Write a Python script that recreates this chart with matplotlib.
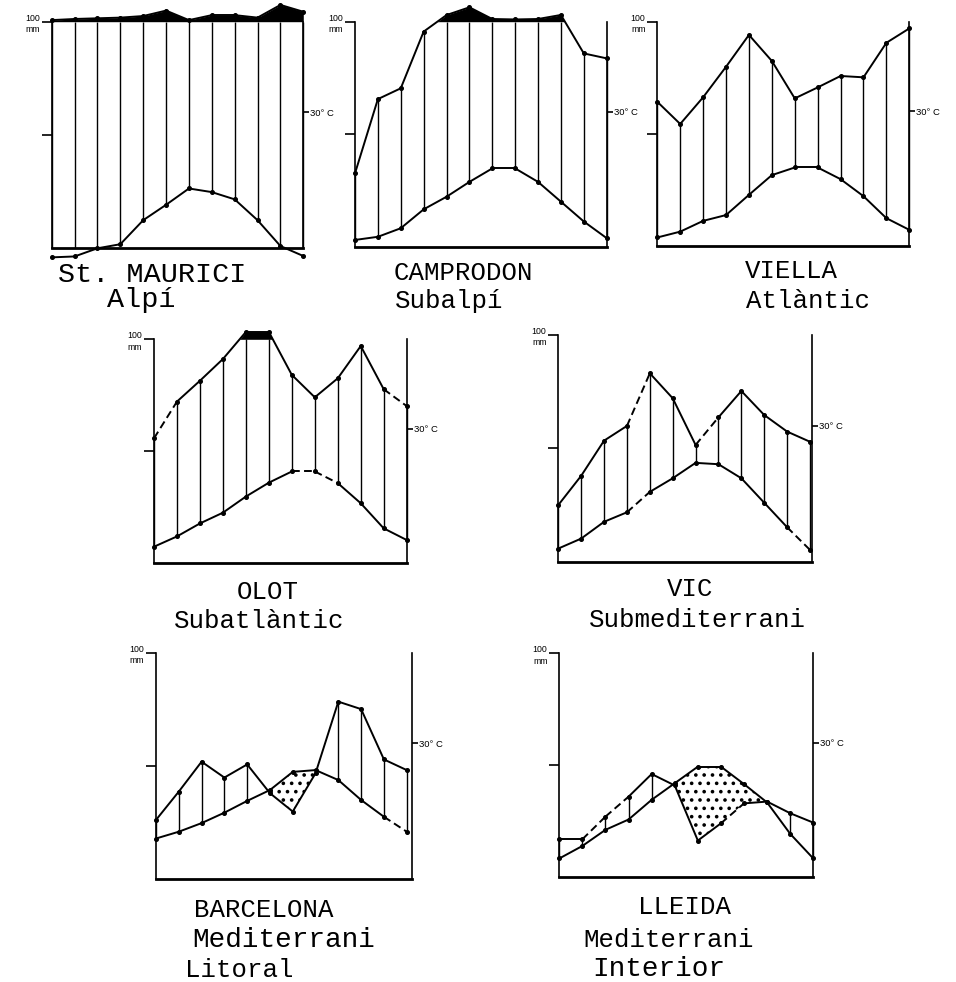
import numpy as np
import matplotlib
matplotlib.use("Agg")
import matplotlib.pyplot as plt

W, H = 956, 982

# ---------------- data (monthly, Jan..Dec) ----------------
months = np.arange(12)

stations = ["St. MAURICI", "CAMPRODON", "VIELLA", "OLOT", "VIC", "BARCELONA", "LLEIDA"]
climates = ["Alpí", "Subalpí", "Atlàntic", "Subatlàntic", "Submediterrani",
            "Mediterrani\nLitoral", "Mediterrani\nInterior"]

# precipitation (mm)
p_maurici = [107, 112, 115, 118, 125, 149, 107, 129, 129, 118, 174, 144]
p_camprodon = [32.6, 65.6, 70.4, 95.6, 129.6, 164, 112, 110, 112, 130, 85.9, 83.7]
p_viella = [64.3, 54.4, 66.3, 79.9, 94.1, 82.5, 65.8, 70.7, 75.8, 75.2, 90.6, 97.0]
p_olot = [55.8, 72.2, 81.5, 91.2, 133, 133, 84.1, 74.1, 82.6, 97.0, 77.7, 70.2]
p_vic = [25.0, 37.9, 53.4, 59.9, 83.1, 72.1, 51.5, 63.7, 75.3, 64.7, 57.4, 52.9]
p_bcn = [26.2, 38.7, 51.9, 44.9, 50.7, 38.0, 29.9, 46.8, 78.4, 75.1, 52.9, 48.2]
p_lleida = [17.0, 17.0, 27.1, 36.0, 46.1, 41.0, 16.4, 24.1, 33.0, 33.8, 28.6, 24.4]

# mean temperature (°C)
t_maurici = [-2.0, -1.8, 0.0, 0.9, 6.2, 9.6, 13.2, 12.4, 10.8, 6.2, 0.5, -1.7]
t_camprodon = [1.5, 2.2, 4.1, 8.3, 11.1, 14.4, 17.4, 17.4, 14.4, 10.0, 5.6, 1.9]
t_viella = [1.9, 3.2, 5.6, 6.9, 11.4, 15.8, 17.5, 17.5, 14.9, 11.1, 6.2, 3.6]
t_olot = [3.7, 6.0, 8.9, 11.3, 14.9, 18.0, 20.5, 20.5, 17.9, 13.4, 7.8, 5.2]
t_vic = [2.9, 5.1, 8.8, 10.9, 15.4, 18.4, 21.8, 21.5, 18.4, 13.0, 7.6, 2.6]
t_bcn = [9.0, 10.5, 12.4, 14.7, 17.3, 19.7, 23.7, 24.1, 21.9, 17.5, 13.8, 10.5]
t_lleida = [4.2, 7.0, 10.6, 12.9, 17.3, 21.0, 24.7, 24.7, 20.8, 16.7, 9.7, 4.2]

precip = [p_maurici, p_camprodon, p_viella, p_olot, p_vic, p_bcn, p_lleida]
temps = [t_maurici, t_camprodon, t_viella, t_olot, t_vic, t_bcn, t_lleida]

# ---------------- style: segments drawn broken (start month index) ----------------
dash_p = [[], [], [], [0, 10], [3, 6], [], [1, 2, 7]]
dash_t = [[], [], [], [6, 7], [3, 10], [10], []]

# ---------------- layout (pixels) ----------------
# left axis x, right axis x, x of last month, y of 0 mm, y of 100 mm
frames = [
    (51.7, 303.3, 303.3, 248.3, 21.7),
    (355.0, 606.7, 606.7, 246.7, 21.7),
    (657.3, 909.3, 909.3, 246.0, 21.7),
    (154.0, 406.7, 406.7, 563.3, 339.3),
    (558.3, 811.7, 810.0, 561.7, 335.0),
    (156.0, 411.7, 406.7, 879.3, 652.7),
    (559.3, 813.3, 813.3, 877.3, 653.3),
]
# (x centre, baseline y, size) for station name and climate lines
name_pos = [(152.5, 282, 20.5), (463.3, 280, 18.5), (791.7, 278.3, 18.5),
            (267.5, 599.3, 18.5), (690, 596, 18.5), (263.3, 916.7, 18.5),
            (684.2, 914, 18.5)]
clim_pos = [[(141.7, 307, 20.5)], [(449.2, 308.3, 18.5)], [(807.5, 308.3, 18.5)],
            [(259.2, 628.3, 18.5)], [(697.5, 627.3, 18.5)],
            [(283.3, 947.3, 20), (239.2, 977.3, 18.5)],
            [(668.3, 946.7, 18.5), (658.3, 975.5, 20)]]

MONO = ["Liberation Mono", "DejaVu Sans Mono"]
SANS = ["Liberation Sans", "DejaVu Sans"]
plt.rcParams["font.family"] = SANS
plt.rcParams["hatch.linewidth"] = 1.4

fig = plt.figure(figsize=(W / 100, H / 100), dpi=100)
fig.patch.set_facecolor("white")

YMIN, YMAX = -14.0, 116.0


def scaled(p):
    p = np.asarray(p, float)
    return np.where(p > 100, 100 + (p - 100) / 10.0, p)


def draw_series(ax, x, y, dashed):
    for k in range(len(x) - 1):
        ls = (0, (4, 2.2)) if k in dashed else "-"
        ax.plot(x[k:k + 2], y[k:k + 2], color="k", lw=1.4, ls=ls,
                solid_capstyle="round", clip_on=False)
    ax.plot(x, y, ls="none", marker="o", ms=2.6, color="k", clip_on=False)


for i in range(7):
    L, R, Rd, B, T100 = frames[i]
    xr = 11 * (R - L) / (Rd - L)
    dy = (B - T100) / 100.0
    bot_px = B - YMIN * dy
    top_px = T100 - (YMAX - 100) * dy
    ax = fig.add_axes([L / W, 1 - bot_px / H, (R - L) / W, (bot_px - top_px) / H])
    ax.set_xlim(0, xr)
    ax.set_ylim(YMIN, YMAX)
    ax.patch.set_alpha(0)

    x = months.astype(float)
    Ps = scaled(precip[i])
    Tm = 2 * np.asarray(temps[i], float)

    # humid period hatching (one line per month)
    top = np.minimum(Ps, 100)
    bot = np.maximum(Tm, 0)
    m = top > bot
    ax.vlines(x[m], bot[m], top[m], color="k", lw=1.0, clip_on=False)
    # super-humid (>100 mm) in black
    ax.fill_between(x, 100, Ps, where=Ps > 100, interpolate=True,
                    color="k", lw=0, clip_on=False)
    # dry period dotted
    if np.any(Tm > Ps):
        ax.fill_between(x, Ps, Tm, where=Tm > Ps, interpolate=True,
                        facecolor="none", edgecolor="k", hatch="..", lw=0)
    draw_series(ax, x, Ps, dash_p[i])
    draw_series(ax, x, Tm, dash_t[i])

    # frame
    ax.spines["top"].set_visible(False)
    ax.spines["bottom"].set_position(("data", 0))
    ax.spines["bottom"].set_bounds(0, xr)
    ax.spines["bottom"].set_linewidth(2.0)
    ax.spines["left"].set_bounds(0, 100)
    ax.spines["right"].set_bounds(0, 100)
    ax.spines["left"].set_linewidth(1.2)
    ax.spines["right"].set_linewidth(1.2)
    ax.set_xticks([])
    ax.set_yticks([50, 100])
    ax.set_yticklabels(["", "100\nmm"], linespacing=1.35)
    ax.tick_params(axis="y", direction="out", length=7, width=1.2,
                   labelsize=6.3, pad=1.5)

    ax2 = ax.twinx()
    ax2.set_ylim(YMIN / 2, YMAX / 2)
    ax2.set_yticks([30])
    ax2.set_yticklabels(["30° C"])
    ax2.tick_params(axis="y", direction="out", length=4, width=1.2,
                    labelsize=6.8, pad=1)
    ax2.set_xticks([])
    for s in ax2.spines.values():
        s.set_visible(False)
    ax2.patch.set_alpha(0)

    # texts
    nx, ny, ns = name_pos[i]
    fig.text(nx / W, 1 - ny / H, stations[i], ha="center", va="baseline",
             fontsize=ns, family=MONO)
    for line, (cx, cy, cs) in zip(climates[i].split("\n"), clim_pos[i]):
        fig.text(cx / W, 1 - cy / H, line, ha="center", va="baseline",
                 fontsize=cs, family=MONO)

fig.savefig("out.png", dpi=100, facecolor="white")
